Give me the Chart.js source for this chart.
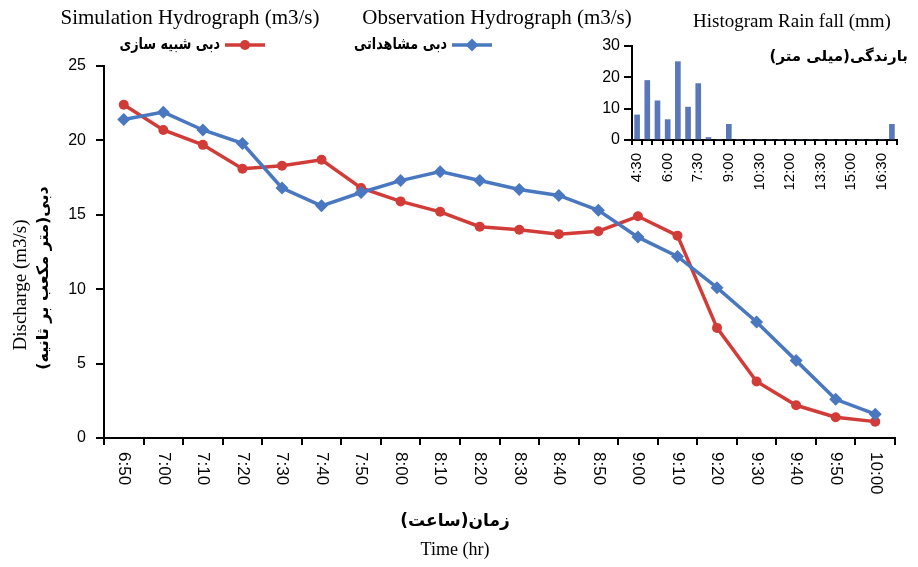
<!DOCTYPE html>
<html>
<head>
<meta charset="utf-8">
<script src="https://cdn.jsdelivr.net/npm/chart.js@4.4.1/dist/chart.umd.min.js"></script>
<style>
  html, body { margin: 0; padding: 0; background: #fff; }
  #wrap { position: relative; width: 918px; height: 567px; }
  #mainChart { position: absolute; left: 0; top: 0; }
  #rainChart { position: absolute; left: 560px; top: 0; }
</style>
</head>
<body>
<div id="wrap">
  <canvas id="mainChart" width="918" height="567"></canvas>
  <canvas id="rainChart" width="358" height="215"></canvas>
</div>
<script>
// hydrograph data (m3/s)
const timeLabels = ['6:50', '7:00', '7:10', '7:20', '7:30', '7:40', '7:50', '8:00', '8:10', '8:20',
                    '8:30', '8:40', '8:50', '9:00', '9:10', '9:20', '9:30', '9:40', '9:50', '10:00'];
const simulated = [22.4, 20.7, 19.7, 18.1, 18.3, 18.7, 16.8, 15.9, 15.2, 14.2,
                   14.0, 13.7, 13.9, 14.9, 13.6, 7.4, 3.8, 2.2, 1.4, 1.1];
const observed = [21.4, 21.9, 20.7, 19.8, 16.8, 15.6, 16.5, 17.3, 17.9, 17.3,
                  16.7, 16.3, 15.3, 13.5, 12.2, 10.1, 7.8, 5.2, 2.6, 1.6];

// rainfall histogram (mm)
const rainLabels = ['4:30', '5:00', '5:30', '6:00', '6:30', '7:00', '7:30', '8:00', '8:30', '9:00',
                    '9:30', '10:00', '10:30', '11:00', '11:30', '12:00', '12:30', '13:00', '13:30',
                    '14:00', '14:30', '15:00', '15:30', '16:00', '16:30', '17:00'];
const rainfall = [8, 19, 12.5, 6.5, 25, 10.5, 18, 0.8, 0, 5,
                  0, 0, 0, 0, 0, 0, 0, 0, 0, 0, 0, 0, 0, 0, 0, 5];

const RED = '#D23C38';
const BLUE = '#4A78C0';
const SERIF = '"Liberation Serif", "Times New Roman", serif';
const SANS = '"Liberation Sans", Arial, sans-serif';
const FA = '"DejaVu Sans", sans-serif';

function drawMarker(ctx, style, x, y, r, color) {
    ctx.fillStyle = color;
    ctx.beginPath();
    if (style === 'circle') {
        ctx.arc(x, y, r, 0, Math.PI * 2);
    } else {
        ctx.moveTo(x, y - r);
        ctx.lineTo(x + r, y);
        ctx.lineTo(x, y + r);
        ctx.lineTo(x - r, y);
        ctx.closePath();
    }
    ctx.fill();
}

function legendItem(ctx, text, textRight, lineX, y, color, style, r) {
    ctx.save();
    ctx.direction = 'rtl';
    ctx.font = 'bold 16px ' + FA;
    ctx.fillStyle = '#000';
    ctx.textAlign = 'right';
    ctx.textBaseline = 'middle';
    // DejaVu arabic runs wide, squeeze it a bit
    ctx.translate(textRight, y);
    ctx.scale(0.8, 1);
    ctx.fillText(text, 0, 0);
    ctx.restore();

    ctx.save();
    ctx.strokeStyle = color;
    ctx.lineWidth = 3.5;
    ctx.beginPath();
    ctx.moveTo(lineX, y);
    ctx.lineTo(lineX + 40, y);
    ctx.stroke();
    drawMarker(ctx, style, lineX + 20, y, r, color);
    ctx.restore();
}

// texts around the main chart + x labels written top to bottom
const decorPlugin = {
    id: 'decor',
    afterDraw(chart) {
        const ctx = chart.ctx;
        const xs = chart.scales.x;

        ctx.save();
        ctx.fillStyle = '#000';
        ctx.font = '17px ' + SANS;
        ctx.textAlign = 'left';
        ctx.textBaseline = 'middle';
        timeLabels.forEach((lab, i) => {
            ctx.save();
            ctx.translate(xs.getPixelForTick(i), 452);
            ctx.rotate(Math.PI / 2);
            ctx.fillText(lab, 0, 0);
            ctx.restore();
        });
        ctx.restore();

        ctx.save();
        ctx.fillStyle = '#000';
        ctx.textBaseline = 'middle';
        ctx.textAlign = 'center';
        ctx.font = '21px ' + SERIF;
        ctx.fillText('Simulation Hydrograph (m3/s)', 190, 18);
        ctx.fillText('Observation Hydrograph (m3/s)', 497, 18);
        ctx.font = '19px ' + SERIF;
        ctx.fillText('Histogram Rain fall (mm)', 792, 22);

        ctx.font = '18px ' + SERIF;
        ctx.fillText('Time (hr)', 455, 550);

        ctx.direction = 'rtl';
        ctx.font = 'bold 17px ' + FA;
        ctx.fillText('زمان(ساعت)', 455, 522);
        ctx.textAlign = 'right';
        ctx.font = 'bold 15px ' + FA;
        ctx.fillText('بارندگی(میلی متر)', 908, 57);

        // y axis titles
        ctx.save();
        ctx.translate(21, 285);
        ctx.rotate(-Math.PI / 2);
        ctx.direction = 'ltr';
        ctx.textAlign = 'center';
        ctx.font = '19px ' + SERIF;
        ctx.fillText('Discharge (m3/s)', 0, 0);
        ctx.restore();

        ctx.save();
        ctx.translate(44, 278);
        ctx.rotate(-Math.PI / 2);
        ctx.direction = 'rtl';
        ctx.textAlign = 'center';
        ctx.font = 'bold 16px ' + FA;
        ctx.fillText('دبی(متر مکعب بر ثانیه)', 0, 0);
        ctx.restore();
        ctx.restore();

        legendItem(ctx, 'دبی شبیه سازی', 220, 225, 45, RED, 'circle', 5);
        legendItem(ctx, 'دبی مشاهداتی', 447, 452, 45, BLUE, 'diamond', 6.5);
    }
};

new Chart(document.getElementById('mainChart'), {
    type: 'line',
    data: {
        labels: timeLabels,
        datasets: [{
            label: 'Simulation Hydrograph (m3/s)',
            data: simulated,
            borderColor: RED,
            backgroundColor: RED,
            borderWidth: 3.5,
            pointStyle: 'circle',
            pointRadius: 5,
            pointBorderWidth: 0,
            tension: 0,
            order: 2
        }, {
            label: 'Observation Hydrograph (m3/s)',
            data: observed,
            borderColor: BLUE,
            backgroundColor: BLUE,
            borderWidth: 3.5,
            pointStyle: 'rectRot',
            pointRadius: 6.5,
            pointBorderWidth: 0,
            tension: 0,
            order: 1
        }]
    },
    options: {
        responsive: false,
        animation: false,
        layout: { padding: { top: 66, right: 23, left: 0, bottom: 0 } },
        plugins: { legend: { display: false }, tooltip: { enabled: false } },
        scales: {
            x: {
                offset: true,
                grid: { offset: true, drawOnChartArea: false, tickLength: 7, color: '#000', lineWidth: 2 },
                border: { color: '#000', width: 2 },
                ticks: { display: false },
                afterFit: s => { s.height = 129; }
            },
            y: {
                min: 0,
                max: 25,
                ticks: { stepSize: 5, color: '#000', font: { family: SANS, size: 16 }, padding: 10 },
                grid: { drawOnChartArea: false, tickLength: 8, color: '#000', lineWidth: 2 },
                border: { color: '#000', width: 2 },
                afterFit: s => { s.width = 104; }
            }
        }
    },
    plugins: [decorPlugin]
});

new Chart(document.getElementById('rainChart'), {
    type: 'bar',
    data: {
        labels: rainLabels,
        datasets: [{
            label: 'Histogram Rain fall (mm)',
            data: rainfall,
            backgroundColor: '#5A77B9',
            barThickness: 5
        }]
    },
    options: {
        responsive: false,
        animation: false,
        layout: { padding: { top: 46, right: 5, left: 0, bottom: 0 } },
        plugins: { legend: { display: false }, tooltip: { enabled: false } },
        scales: {
            x: {
                grid: { offset: true, drawOnChartArea: false, tickLength: 5, color: '#000', lineWidth: 2 },
                border: { color: '#000', width: 2 },
                ticks: {
                    autoSkip: false,
                    minRotation: 90,
                    maxRotation: 90,
                    padding: 8,
                    color: '#000',
                    font: { family: SANS, size: 15 },
                    callback: (v, i) => (i % 3 === 0 ? rainLabels[i] : '')
                },
                afterFit: s => { s.height = 75; }
            },
            y: {
                min: 0,
                max: 30,
                ticks: { stepSize: 10, color: '#000', font: { family: SANS, size: 16 }, padding: 4 },
                grid: { drawOnChartArea: false, tickLength: 8, color: '#000', lineWidth: 2 },
                border: { color: '#000', width: 2 },
                afterFit: s => { s.width = 72; }
            }
        }
    }
});
</script>
</body>
</html>
